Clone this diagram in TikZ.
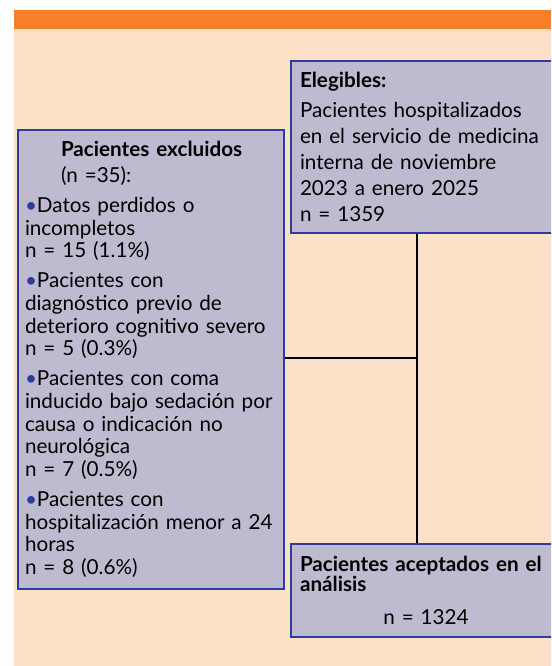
\documentclass[tikz,border=0pt]{standalone}
\usepackage{fontspec}
\setmainfont{Lato}
\definecolor{cintillo}{RGB}{245,128,41}
\definecolor{fondo}{RGB}{252,224,200}
\definecolor{relleno}{RGB}{190,187,208}
\definecolor{borde}{RGB}{46,61,152}
\tikzset{every picture/.style={line width=0.75pt}}
\tikzset{
  caja/.style={draw=borde, fill=relleno, line width=1.5pt, anchor=north west,
    inner xsep=6.75pt, inner ysep=0pt, text width=189pt, align=left,
    font=\fontsize{15.5}{19.5}\selectfont},
  enlace/.style={draw=black, line width=0.9pt}
}
\newcommand{\vineta}{{\color{borde}\textbullet}}

\begin{document}
\begin{tikzpicture}[x=0.75pt,y=0.75pt,yscale=-1,xscale=1]
\useasboundingbox (0,0) rectangle (551,666);
\clip (0,0) rectangle (551,666);

%Fondo y cintillo
\fill[fondo] (14,28) rectangle (551,666);
\fill[cintillo] (14,10) rectangle (551,29);

%Cajas
\node[caja, minimum height=129pt] (elegibles) at (290,60) {\textbf{Elegibles:}\\[3pt]
Pacientes hospitalizados\\
en el servicio de medicina\\
interna de noviembre\\
2023 a enero 2025\\
n = 1359};

\node[caja, inner xsep=5.25pt, minimum height=344.25pt, font=\fontsize{15.5}{17}\selectfont] (excluidos) at (17,129) {\hspace*{27pt}\textbf{Pacientes excluidos}\\[2.5pt]
\hspace*{27pt}(n =35):\\[5.5pt]
\vineta Datos perdidos o\\
incompletos\\
n = 15 (1.1\%)\\[5.5pt]
\vineta Pacientes con\\
diagnóstico previo de\\
deterioro cognitivo severo\\
n = 5 (0.3\%)\\[5.5pt]
\vineta Pacientes con coma\\
\mbox{inducido bajo sedación por}\\
causa o indicación no\\
neurológica\\
n = 7 (0.5\%)\\[5.5pt]
\vineta Pacientes con\\
\mbox{hospitalización menor a 24}\\
horas\\
n = 8 (0.6\%)};

\node[caja, minimum height=69.75pt, font=\fontsize{15.5}{15}\selectfont] (aceptados) at (290,543) {\textbf{Pacientes aceptados en el}\\
\textbf{análisis}\\[9.75pt]
\makebox[189pt]{n = 1324}};

%Conectores
\coordinate (cruce) at (417,358);
\draw[enlace] (elegibles.south -| cruce) -- (aceptados.north -| cruce);
\draw[enlace] (excluidos.east |- cruce) -- (cruce);

\end{tikzpicture}
\end{document}
